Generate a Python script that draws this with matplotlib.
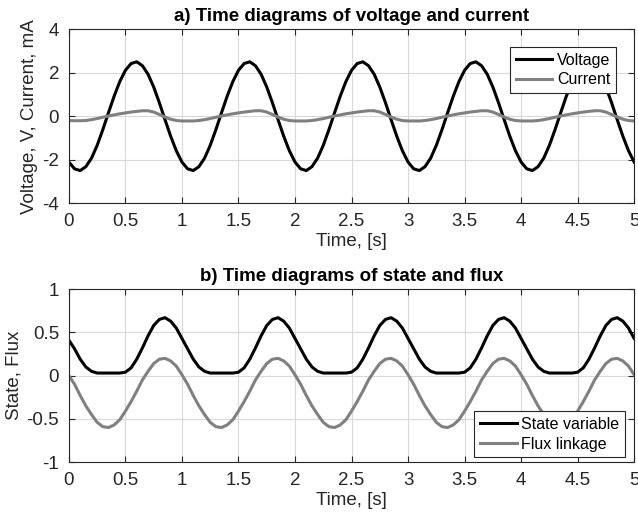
import matplotlib
matplotlib.use("Agg")
import matplotlib.pyplot as plt
import numpy as np

plt.rcParams['font.family'] = ['Liberation Sans', 'DejaVu Sans']

# time axis, 0 .. 5 s in 0.05 s steps
t = np.linspace(0, 5, 101)

voltage = [
    -2.11, -2.42, -2.50, -2.32, -1.93, -1.34, -0.62, 0.16, 0.92, 1.59, 2.11, 2.42, 2.50, 2.32, 1.93, 1.34, 0.62, -0.16, -0.92, -1.59,
    -2.11, -2.42, -2.50, -2.32, -1.93, -1.34, -0.62, 0.16, 0.92, 1.59, 2.11, 2.42, 2.50, 2.32, 1.93, 1.34, 0.62, -0.16, -0.92, -1.59,
    -2.11, -2.42, -2.50, -2.32, -1.93, -1.34, -0.62, 0.16, 0.92, 1.59, 2.11, 2.42, 2.50, 2.32, 1.93, 1.34, 0.62, -0.16, -0.92, -1.59,
    -2.11, -2.42, -2.50, -2.32, -1.93, -1.34, -0.62, 0.16, 0.92, 1.59, 2.11, 2.42, 2.50, 2.32, 1.93, 1.34, 0.62, -0.16, -0.92, -1.59,
    -2.11, -2.42, -2.50, -2.32, -1.93, -1.34, -0.62, 0.16, 0.92, 1.59, 2.11, 2.42, 2.50, 2.32, 1.93, 1.34, 0.62, -0.16, -0.92, -1.59,
    -2.11,
]
current = [
    -0.20, -0.21, -0.21, -0.20, -0.16, -0.11, -0.05, 0.01, 0.06, 0.11, 0.15, 0.19, 0.22, 0.25, 0.25, 0.19, 0.08, -0.04, -0.14, -0.20,
    -0.22, -0.22, -0.22, -0.20, -0.16, -0.11, -0.05, 0.01, 0.06, 0.11, 0.15, 0.19, 0.22, 0.25, 0.25, 0.19, 0.08, -0.04, -0.14, -0.20,
    -0.22, -0.22, -0.22, -0.20, -0.16, -0.11, -0.05, 0.01, 0.06, 0.11, 0.15, 0.19, 0.22, 0.25, 0.25, 0.19, 0.08, -0.04, -0.14, -0.20,
    -0.22, -0.22, -0.22, -0.20, -0.16, -0.11, -0.05, 0.01, 0.06, 0.11, 0.15, 0.19, 0.22, 0.25, 0.25, 0.19, 0.08, -0.04, -0.14, -0.20,
    -0.22, -0.22, -0.22, -0.20, -0.16, -0.11, -0.05, 0.01, 0.06, 0.11, 0.15, 0.19, 0.22, 0.25, 0.25, 0.19, 0.08, -0.04, -0.14, -0.20,
    -0.22,
]
state = [
    0.41, 0.31, 0.19, 0.10, 0.05, 0.03, 0.03, 0.03, 0.03, 0.03, 0.04, 0.09, 0.19, 0.32, 0.46, 0.58, 0.65, 0.67, 0.63, 0.55,
    0.43, 0.31, 0.19, 0.10, 0.05, 0.03, 0.03, 0.03, 0.03, 0.03, 0.04, 0.09, 0.19, 0.32, 0.46, 0.58, 0.65, 0.67, 0.63, 0.55,
    0.43, 0.31, 0.19, 0.10, 0.05, 0.03, 0.03, 0.03, 0.03, 0.03, 0.04, 0.09, 0.19, 0.32, 0.46, 0.58, 0.65, 0.67, 0.63, 0.55,
    0.43, 0.31, 0.19, 0.10, 0.05, 0.03, 0.03, 0.03, 0.03, 0.03, 0.04, 0.09, 0.19, 0.32, 0.46, 0.58, 0.65, 0.67, 0.63, 0.55,
    0.43, 0.31, 0.19, 0.10, 0.05, 0.03, 0.03, 0.03, 0.03, 0.03, 0.04, 0.09, 0.19, 0.32, 0.46, 0.58, 0.65, 0.67, 0.63, 0.55,
    0.43,
]
flux = [
    0.00, -0.10, -0.23, -0.35, -0.45, -0.54, -0.59, -0.60, -0.57, -0.51, -0.41, -0.30, -0.18, -0.05, 0.05, 0.14, 0.19, 0.20, 0.17, 0.11,
    0.01, -0.10, -0.23, -0.35, -0.45, -0.54, -0.59, -0.60, -0.57, -0.51, -0.41, -0.30, -0.18, -0.05, 0.05, 0.14, 0.19, 0.20, 0.17, 0.11,
    0.01, -0.10, -0.23, -0.35, -0.45, -0.54, -0.59, -0.60, -0.57, -0.51, -0.41, -0.30, -0.18, -0.05, 0.05, 0.14, 0.19, 0.20, 0.17, 0.11,
    0.01, -0.10, -0.23, -0.35, -0.45, -0.54, -0.59, -0.60, -0.57, -0.51, -0.41, -0.30, -0.18, -0.05, 0.05, 0.14, 0.19, 0.20, 0.17, 0.11,
    0.01, -0.10, -0.23, -0.35, -0.45, -0.54, -0.59, -0.60, -0.57, -0.51, -0.41, -0.30, -0.18, -0.05, 0.05, 0.14, 0.19, 0.20, 0.17, 0.11,
    0.01,
]

x_ticks = np.arange(0, 5.01, 0.5)
x_labels = ["0", "0.5", "1", "1.5", "2", "2.5", "3", "3.5", "4", "4.5", "5"]

black = "black"
gray = (0.5, 0.5, 0.5)
axis_col = (0.15, 0.15, 0.15)
fs = 13.5

fig = plt.figure(figsize=(6.38, 5.21), dpi=100)
ax1 = fig.add_axes([0.108, 0.610, 0.886, 0.334])
ax2 = fig.add_axes([0.108, 0.113, 0.886, 0.332])


def style(ax, yticks, ylabels):
    ax.set_xlim(0, 5)
    ax.set_xticks(x_ticks)
    ax.set_xticklabels(x_labels)
    ax.set_yticks(yticks)
    ax.set_yticklabels(ylabels)
    ax.grid(True, color=(0.85, 0.85, 0.85), linewidth=0.8)
    ax.set_axisbelow(True)
    ax.tick_params(direction="in", top=True, right=True, length=4, pad=7,
                   labelsize=fs, colors=axis_col, labelcolor=axis_col)
    for s in ax.spines.values():
        s.set_color(axis_col)
        s.set_linewidth(0.8)
    ax.set_xlabel("Time, [s]", fontsize=fs, color=axis_col, labelpad=2)


ax1.plot(t, voltage, color=black, lw=2.2, label="Voltage")
ax1.plot(t, current, color=gray, lw=2.2, label="Current")
ax1.set_ylim(-4, 4)
style(ax1, [-4, -2, 0, 2, 4], ["-4", "-2", "0", "2", "4"])
ax1.set_ylabel("Voltage, V, Current, mA", fontsize=fs, color=axis_col, labelpad=3)
ax1.set_title("a) Time diagrams of voltage and current", fontsize=fs, fontweight="bold", pad=6)
leg1 = ax1.legend(loc="upper right", bbox_to_anchor=(0.968, 0.897), fontsize=11.5,
                  frameon=True, fancybox=False, edgecolor=axis_col, framealpha=1,
                  handlelength=2.3, handletextpad=0.3, borderpad=0.35, labelspacing=0.3,
                  borderaxespad=0)
leg1.get_frame().set_linewidth(0.8)

ax2.plot(t, state, color=black, lw=2.2, label="State variable")
ax2.plot(t, flux, color=gray, lw=2.2, label="Flux linkage")
ax2.set_ylim(-1, 1)
style(ax2, [-1, -0.5, 0, 0.5, 1], ["-1", "-0.5", "0", "0.5", "1"])
ax2.set_ylabel("State, Flux", fontsize=fs, color=axis_col, labelpad=3)
ax2.set_title("b) Time diagrams of state and flux", fontsize=fs, fontweight="bold", pad=6)
leg2 = ax2.legend(loc="lower right", bbox_to_anchor=(0.984, 0.029), fontsize=11.5,
                  frameon=True, fancybox=False, edgecolor=axis_col, framealpha=1,
                  handlelength=2.3, handletextpad=0.3, borderpad=0.35, labelspacing=0.3,
                  borderaxespad=0)
leg2.get_frame().set_linewidth(0.8)

plt.savefig("out.png", dpi=100)
